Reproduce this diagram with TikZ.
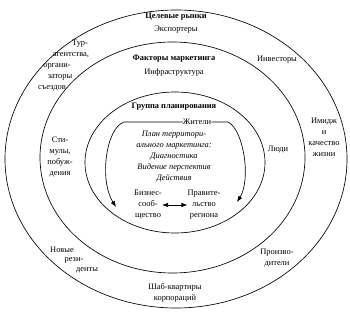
\documentclass[tikz,border=0pt]{standalone}
\usepackage{fontspec}
\setmainfont{Liberation Serif}
\usetikzlibrary{arrows.meta}
\begin{document}
\begin{tikzpicture}[x=1pt,y=-1pt,
  lbl/.style={font=\fontsize{8.4}{11}\selectfont, align=center, inner sep=0pt},
  ttl/.style={font=\fontsize{8.4}{11}\selectfont\bfseries, align=center, inner sep=0pt},
  itl/.style={font=\fontsize{8.4}{11}\selectfont\itshape, align=center, inner sep=0pt},
  ring/.style={draw, line width=0.65pt},
  conn/.style={draw, line width=0.65pt},
  arr/.style={conn, -{Latex[length=6pt,width=4.5pt]}},
  darr/.style={conn, {Latex[length=6pt,width=4.5pt]}-{Latex[length=6pt,width=4.5pt]}}]
\useasboundingbox (0,0) rectangle (350,321);
% rings
\draw[ring] (176,159) ellipse [x radius=171pt, y radius=149pt];
\draw[ring] (172.5,157.5) ellipse [x radius=132.5pt, y radius=115.5pt];
\draw[ring] (175,162.5) ellipse [x radius=90pt, y radius=70.5pt];
% titles
\node[ttl] (tr) at (176,17) {Целевые рынки};
\node[lbl] (exp) at (176,30) {Экспортеры};
\node[ttl] (fm) at (174,59) {Факторы маркетинга};
\node[lbl] (inf) at (174,72) {Инфраструктура};
\node[ttl] (gp) at (174,107) {Группа планирования};
% inner
\node[lbl] (zh) at (197,122) {Жители};
\node[itl] (plan) at (174,157) {План территори-\\ального маркетинга:\\Диагностика\\Видение перспектив\\Действия};
\node[lbl] (biz) at (148,205) {Бизнес-\\сооб-\\щество};
\node[lbl] (gov) at (204,205) {Правите-\\льство\\региона};
\coordinate (l1) at (124,122);
\coordinate (l2) at (116,207);
\coordinate (r1) at (228,122);
\coordinate (r2) at (237,202);
\draw[arr] (zh.west) -- (l1) .. controls (106,128) and (99,180) .. (l2);
\draw[arr] (zh.east) -- (r1) .. controls (244,130) and (251,180) .. (r2);
\draw[darr] (biz.east |- 0,205) -- (gov.west |- 0,205);
% middle ring
\node[lbl] (st) at (60,157) {Сти-\\мулы,\\побуж-\\дения};
\node[lbl] (ld) at (278,150) {Люди};
\node[lbl] (pr) at (277,258) {Произво-\\дители};
% outer ring
\node[lbl] (tu1) at (80,44) {Тур-};
\node[lbl] (tu2) at (71,55) {агентства,};
\node[lbl] (tu3) at (57,66) {органи-};
\node[lbl] (tu4) at (60,77) {заторы};
\node[lbl] (tu5) at (52,88) {съездов};
\node[lbl] (inv) at (277,60) {Инвесторы};
\node[lbl] (im) at (324,137) {Имидж\\и\\качество\\жизни};
\node[lbl] (nr1) at (62,250) {Новые};
\node[lbl] (nr2) at (74,260) {рези-};
\node[lbl] (nr3) at (87,270) {денты};
\node[lbl] (sh) at (175,293) {Шаб-квартиры\\корпораций};
\end{tikzpicture}
\end{document}
